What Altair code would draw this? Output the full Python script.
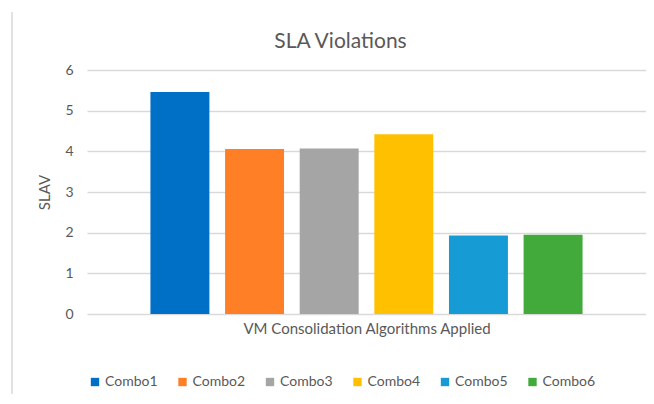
import altair as alt
import pandas as pd

combos = ["Combo1", "Combo2", "Combo3", "Combo4", "Combo5", "Combo6"]
slav = [5.46, 4.06, 4.07, 4.42, 1.93, 1.95]
colors = ["#0070C6", "#FF7F27", "#A5A5A5", "#FFC000", "#169BD5", "#41AA3B"]

df = pd.DataFrame({"combo": combos, "slav": slav})

FONT = "Lato"
GRAY = "#595959"

bars = alt.Chart(df).mark_bar().encode(
    x=alt.X("combo:N", sort=combos,
            scale=alt.Scale(paddingInner=0.21, paddingOuter=0.85),
            axis=alt.Axis(title="VM Consolidation Algorithms Applied", labels=False,
                          ticks=False, domain=False, grid=False, titlePadding=7,
                          titleFontSize=15, titleFont=FONT, titleColor=GRAY,
                          titleFontWeight="normal")),
    y=alt.Y("slav:Q", scale=alt.Scale(domain=[0, 6]),
            axis=alt.Axis(title="SLAV", values=[0, 1, 2, 3, 4, 5, 6], ticks=False,
                          domain=False, labelPadding=14, labelFontSize=14,
                          labelFont=FONT, labelColor=GRAY, titleFontSize=15,
                          titleFont=FONT, titleColor=GRAY, titleFontWeight="normal",
                          titlePadding=12, gridColor="#D9D9D9", gridWidth=1.5)),
    color=alt.Color("combo:N", sort=combos,
                    scale=alt.Scale(domain=combos, range=colors),
                    legend=alt.Legend(title=None, orient="none", direction="horizontal",
                                      legendX=1, legendY=305, symbolType="square",
                                      symbolSize=70, symbolStrokeWidth=0,
                                      labelFontSize=14, labelFont=FONT,
                                      labelColor=GRAY, labelOffset=3,
                                      columnPadding=17.5, columns=6)),
)

border = alt.Chart(pd.DataFrame({"a": [0]})).mark_rule(
    color="#D9D9D9", strokeWidth=1.5
).encode(x=alt.value(-75), y=alt.value(-58), y2=alt.value(330))

chart = alt.layer(border, bars).properties(
    width=559, height=244,
    autosize=alt.AutoSizeParams(type="none"),
    padding={"left": 79, "top": 62, "right": 0, "bottom": 80},
    title=alt.TitleParams("SLA Violations", fontSize=21, font=FONT, color=GRAY,
                          fontWeight="normal", anchor="middle", frame="group",
                          baseline="alphabetic", dx=-26, offset=-58),
).configure(background="white").configure_view(stroke=None)

chart.save("out.html", embed_options={"renderer": "svg", "actions": False})
